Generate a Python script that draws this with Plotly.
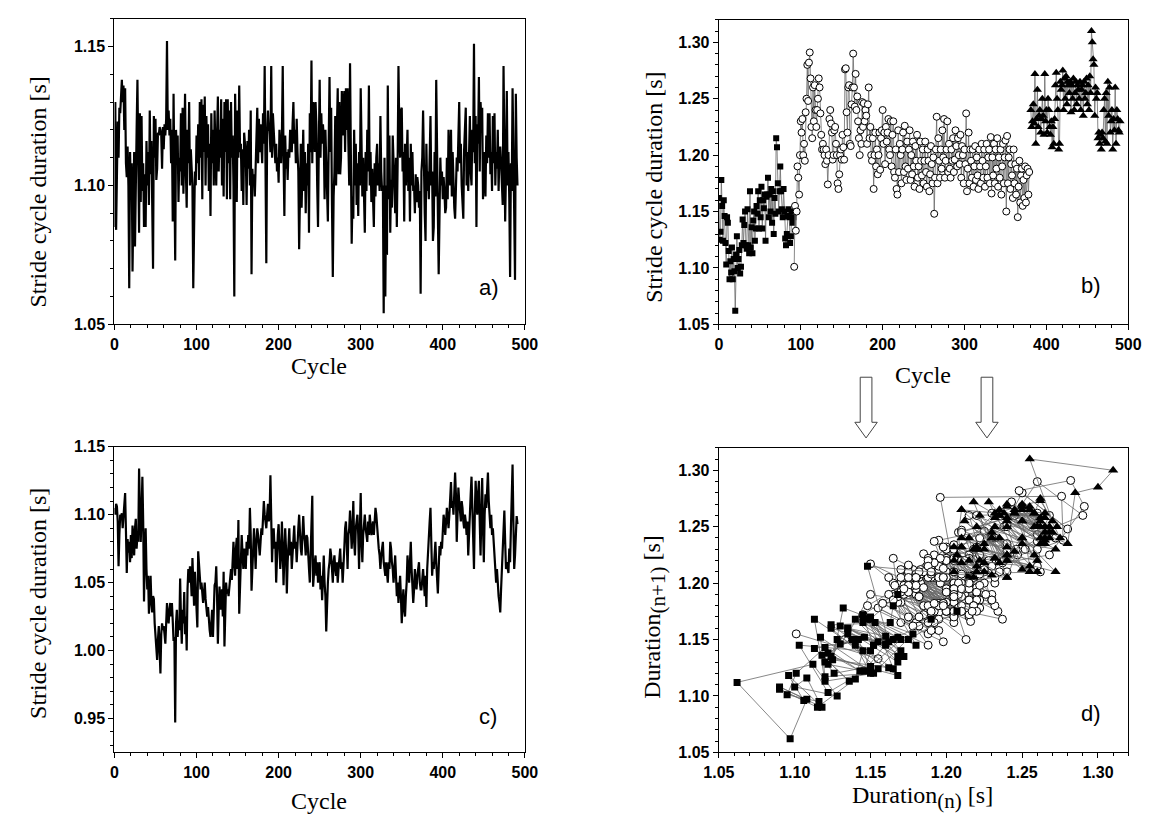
import plotly.graph_objects as go

# ---------------- data (stride durations in ms) ----------------
a_ms = [
1085,1130,1084,1118,1123,1110,1128,1126,1135,1138,1130,1136,1120,1135,1108,1103,1114,1100,1063,1112,
1098,1108,1069,1095,1112,1078,1116,1120,1138,1102,1083,1126,1094,1125,1098,1108,1085,1104,1085,1116,
1100,1112,1093,1127,1104,1116,1093,1070,1125,1110,1124,1102,1106,1119,1118,1121,1120,1118,1106,1121,
1113,1122,1118,1124,1152,1120,1127,1118,1124,1108,1120,1087,1133,1100,1073,1120,1112,1118,1094,1110,
1105,1126,1100,1128,1097,1112,1133,1105,1092,1120,1108,1130,1100,1113,1106,1100,1063,1090,1105,1100,
1118,1108,1122,1102,1130,1110,1131,1095,1129,1112,1132,1100,1125,1110,1122,1098,1115,1089,1126,1108,
1120,1100,1127,1113,1100,1118,1132,1105,1120,1110,1131,1100,1124,1096,1130,1112,1131,1095,1131,1108,
1127,1095,1130,1110,1118,1100,1060,1133,1112,1094,1127,1110,1136,1112,1115,1098,1113,1093,1119,1112,
1111,1093,1116,1106,1120,1100,1127,1068,1106,1100,1104,1096,1110,1120,1128,1108,1124,1112,1122,1115,
1108,1126,1115,1143,1110,1072,1118,1127,1120,1120,1112,1143,1110,1126,1120,1113,1108,1115,1105,1110,
1101,1120,1113,1108,1118,1143,1110,1089,1118,1106,1112,1102,1113,1110,1120,1116,1112,1122,1130,1115,
1120,1108,1124,1112,1105,1077,1098,1115,1092,1110,1120,1098,1112,1090,1108,1100,1115,1083,1126,1112,
1145,1108,1130,1128,1112,1130,1122,1100,1085,1115,1138,1110,1126,1115,1122,1117,1095,1120,1108,1100,
1087,1115,1139,1112,1128,1093,1067,1096,1105,1125,1100,1120,1135,1104,1130,1104,1110,1134,1118,1128,
1134,1112,1135,1120,1135,1115,1100,1144,1110,1079,1096,1088,1120,1100,1115,1093,1108,1089,1112,1100,
1135,1108,1096,1110,1100,1083,1112,1098,1120,1105,1136,1100,1112,1094,1106,1098,1085,1108,1096,1110,
1115,1100,1108,1098,1125,1105,1098,1100,1054,1110,1060,1100,1075,1136,1095,1118,1083,1102,1092,1118,
1105,1095,1090,1110,1085,1108,1143,1120,1110,1127,1128,1105,1112,1087,1115,1100,1108,1120,1098,1110,
1087,1115,1100,1112,1098,1100,1090,1104,1094,1103,1100,1092,1098,1061,1105,1110,1127,1100,1090,1080,
1115,1098,1105,1095,1112,1125,1100,1105,1080,1085,1112,1096,1138,1100,1090,1068,1095,1110,1100,1105,
1095,1103,1098,1090,1092,1110,1095,1120,1108,1100,1120,1096,1112,1100,1092,1088,1103,1110,1105,1115,
1130,1108,1115,1100,1095,1088,1113,1120,1128,1100,1112,1098,1110,1125,1105,1100,1120,1112,1151,1108,
1125,1085,1122,1115,1139,1105,1130,1124,1128,1095,1112,1105,1096,1118,1108,1126,1110,1126,1104,1112,
1098,1125,1108,1126,1100,1112,1106,1120,1098,1112,1114,1108,1100,1093,1143,1112,1087,1105,1134,1100,
1112,1095,1067,1108,1098,1135,1100,1090,1066,1133,1110,1100]

c_ms = [
1105,1100,1108,1106,1095,1062,1085,1100,1098,1101,1090,1100,1102,1116,1088,1057,1082,1072,1080,1065,
1085,1068,1092,1078,1070,1090,1097,1075,1085,1080,1134,1105,1080,1100,1128,1095,1036,1070,1090,1060,
1045,1055,1027,1040,1055,1035,1028,1040,1038,1020,1010,1005,993,1008,1018,1000,983,1012,1020,1015,
1018,1012,1005,1020,1035,1025,1020,1030,1035,1025,1035,1022,1007,1010,947,1020,1030,1010,1022,1015,
1053,1025,1005,1030,1020,1043,1012,1025,1000,1045,1060,1050,1062,1055,1040,1068,1045,1033,1058,1045,
1030,1017,1073,1065,1060,1045,1050,1040,1035,1042,1050,1038,1030,1025,1032,1020,1015,1010,1028,1030,
1010,1040,1048,1050,1062,1040,1005,1030,1047,1030,1040,1045,1025,1058,1003,1035,1050,1042,1045,1040,
1048,1055,1060,1052,1070,1080,1065,1055,1075,1083,1060,1096,1027,1050,1078,1085,1072,1060,1075,1065,
1060,1080,1070,1085,1075,1105,1085,1044,1065,1080,1090,1075,1060,1080,1090,1085,1075,1070,1080,1090,
1085,1095,1110,1100,1095,1090,1100,1108,1095,1100,1129,1080,1065,1085,1090,1075,1080,1050,1075,1085,
1093,1080,1060,1070,1095,1075,1048,1070,1090,1075,1042,1065,1080,1090,1070,1080,1060,1075,1085,1092,
1075,1080,1065,1085,1090,1100,1080,1075,1070,1090,1099,1085,1080,1070,1085,1083,1075,1060,1050,1075,
1095,1114,1047,1060,1065,1070,1055,1065,1050,1060,1065,1045,1055,1037,1060,1070,1050,1040,1014,1045,
1050,1060,1065,1075,1070,1060,1050,1065,1070,1060,1055,1065,1050,1060,1070,1075,1060,1065,1050,1060,
1075,1090,1095,1080,1060,1085,1090,1103,1085,1075,1090,1110,1080,1070,1090,1095,1100,1085,1060,1090,
1116,1080,1065,1085,1095,1100,1090,1085,1080,1095,1085,1100,1090,1085,1090,1095,1085,1098,1105,1100,
1090,1080,1075,1070,1060,1070,1075,1080,1065,1060,1055,1065,1055,1050,1065,1060,1080,1075,1065,1060,
1050,1065,1070,1055,1040,1050,1035,1045,1055,1040,1020,1035,1045,1030,1025,1040,1050,1070,1060,1050,
1065,1080,1060,1050,1035,1045,1060,1050,1045,1055,1060,1065,1050,1045,1045,1055,1060,1050,1040,1055,
1032,1060,1075,1090,1095,1105,1080,1055,1065,1060,1070,1080,1065,1055,1042,1060,1077,1070,1080,1075,
1090,1100,1095,1085,1095,1105,1098,1090,1100,1115,1124,1105,1110,1100,1120,1131,1115,1080,1100,1120,
1110,1100,1095,1110,1105,1095,1090,1100,1095,1085,1095,1070,1090,1105,1115,1128,1100,1090,1060,1100,
1125,1110,1100,1115,1125,1095,1070,1100,1127,1090,1065,1100,1115,1105,1120,1131,1110,1095,1090,1100,
1085,1090,1075,1070,1060,1050,1060,1045,1040,1035,1028,1045,1060,1080,1090,1103,1080,1060,1065,1058,
1057,1075,1065,1090,1110,1137,1095,1060,1070,1080,1099,1093]

# panel b: three walking phases (squares, circles, triangles)
b_sq_ms = [
1162,1125,1132,1178,1155,1124,1160,1146,1122,1103,1145,1140,1115,1090,1106,1096,1118,1090,1108,1097,
1062,1112,1128,1100,1108,1116,1095,1101,1120,1143,1122,1138,1150,1120,1117,1152,1120,1113,1168,1118,
1136,1113,1142,1150,1124,1135,1155,1148,1168,1135,1160,1145,1172,1135,1160,1153,1165,1124,1163,1165,
1180,1145,1165,1150,1170,1140,1168,1130,1162,1148,1215,1207,1175,1150,1168,1190,1168,1152,1145,1170,
1150,1126,1120,1130,1146,1152,1145,1122,1128,1150,1140,1145]
b_ci_ms = [
1101,1155,1133,1150,1190,1180,1165,1200,1230,1220,1232,1200,1210,1195,1238,1250,1280,1248,1282,1291,
1268,1225,1215,1260,1230,1262,1240,1225,1240,1250,1268,1260,1237,1218,1205,1210,1205,1200,1192,1205,
1195,1174,1200,1232,1240,1228,1220,1196,1200,1222,1225,1210,1200,1175,1170,1183,1200,1205,1196,1218,
1207,1196,1276,1277,1238,1220,1260,1262,1210,1208,1245,1260,1290,1260,1243,1272,1240,1252,1230,1215,
1200,1222,1210,1247,1225,1246,1230,1240,1235,1210,1245,1260,1215,1225,1200,1195,1215,1170,1200,1220,
1190,1205,1183,1200,1220,1187,1215,1222,1240,1210,1220,1192,1225,1212,1220,1232,1205,1200,1230,1190,
1218,1230,1185,1180,1205,1170,1165,1222,1185,1210,1200,1175,1205,1220,1185,1226,1190,1178,1212,1188,
1205,1222,1178,1200,1183,1212,1190,1172,1208,1195,1218,1180,1190,1170,1212,1195,1182,1205,1175,1195,
1212,1185,1172,1205,1195,1168,1183,1208,1192,1175,1198,1148,1180,1205,1234,1175,1215,1195,1180,1205,
1188,1222,1198,1232,1180,1195,1205,1230,1185,1210,1188,1180,1205,1195,1215,1185,1196,1222,1208,1190,
1215,1200,1192,1218,1180,1208,1200,1175,1205,1192,1237,1168,1188,1220,1175,1205,1195,1180,1205,1172,
1190,1208,1178,1198,1182,1170,1205,1190,1175,1210,1195,1180,1205,1172,1190,1210,1180,1198,1205,1175,
1216,1166,1198,1182,1210,1175,1205,1188,1215,1172,1198,1180,1205,1165,1190,1210,1175,1198,1213,1150,
1217,1175,1198,1205,1170,1192,1182,1162,1205,1175,1192,1165,1188,1145,1172,1195,1158,1182,1188,1155,
1178,1162,1190,1158,1182,1188,1165,1185]
b_tr_ms = [
1240,1225,1230,1245,1228,1272,1210,1232,1258,1225,1235,1240,1220,1232,1250,1235,1218,1272,1230,1240,
1220,1250,1240,1225,1218,1230,1207,1225,1210,1232,1262,1273,1250,1240,1205,1210,1265,1258,1262,1275,
1240,1268,1250,1270,1245,1265,1262,1255,1265,1238,1262,1250,1268,1240,1255,1265,1245,1262,1258,1250,
1265,1240,1258,1262,1235,1265,1250,1255,1268,1245,1262,1240,1270,1255,1310,1300,1285,1280,1235,1260,
1250,1255,1215,1220,1210,1218,1205,1220,1215,1240,1250,1212,1255,1210,1265,1235,1260,1220,1230,1240,
1205,1232,1222,1260,1210,1240,1232,1222,1220,1230]
b_sq_start = 0
b_ci_start = 92
b_tr_start = 381

cycle_ticks = [0, 100, 200, 300, 400, 500]
a_yticks = [1.05, 1.10, 1.15]
b_yticks = [1.05, 1.10, 1.15, 1.20, 1.25, 1.30]
c_yticks = [0.95, 1.00, 1.05, 1.10, 1.15]
d_ticks = [1.05, 1.10, 1.15, 1.20, 1.25, 1.30]

# ---------------- helpers ----------------
W, H = 1153, 825
def PX(x):
    return x / W
def PY(y):
    return 1 - y / H

to_s = lambda arr: [v / 1000 for v in arr]
a_y = to_s(a_ms); a_x = list(range(len(a_y)))
c_y = to_s(c_ms); c_x = list(range(len(c_y)))
sq = to_s(b_sq_ms); ci = to_s(b_ci_ms); tr = to_s(b_tr_ms)
sq_x = [b_sq_start + i for i in range(len(sq))]
ci_x = [b_ci_start + i for i in range(len(ci))]
tr_x = [b_tr_start + i for i in range(len(tr))]

LINE_GREY = "#6a6a6a"
sq_marker_b = dict(symbol="square", size=6, color="black", line=dict(width=0))
ci_marker_b = dict(symbol="circle", size=7, color="white", line=dict(width=1, color="black"))
tr_marker_b = dict(symbol="triangle-up", size=8, color="black", line=dict(width=0))
sq_marker_d = dict(symbol="square", size=7, color="black", line=dict(width=0))
ci_marker_d = dict(symbol="circle", size=8, color="white", line=dict(width=1, color="black"))
tr_marker_d = dict(symbol="triangle-up", size=9, color="black", line=dict(width=0))

fig = go.Figure()
# a)
fig.add_trace(go.Scatter(x=a_x, y=a_y, mode="lines", line=dict(color="black", width=2.2),
                         xaxis="x", yaxis="y", showlegend=False))
# b)
fig.add_trace(go.Scatter(x=sq_x, y=sq, mode="lines+markers", line=dict(color=LINE_GREY, width=0.8),
                         marker=sq_marker_b, xaxis="x2", yaxis="y2", showlegend=False))
fig.add_trace(go.Scatter(x=ci_x, y=ci, mode="lines+markers", line=dict(color=LINE_GREY, width=0.8),
                         marker=ci_marker_b, xaxis="x2", yaxis="y2", showlegend=False))
fig.add_trace(go.Scatter(x=tr_x, y=tr, mode="lines+markers", line=dict(color=LINE_GREY, width=0.8),
                         marker=tr_marker_b, xaxis="x2", yaxis="y2", showlegend=False))
# c)
fig.add_trace(go.Scatter(x=c_x, y=c_y, mode="lines", line=dict(color="black", width=2.2),
                         xaxis="x3", yaxis="y3", showlegend=False))
# d) return map
for ser, mk in [(ci, ci_marker_d), (sq, sq_marker_d), (tr, tr_marker_d)]:
    fig.add_trace(go.Scatter(x=ser[:-1], y=ser[1:], mode="lines+markers",
                             line=dict(color=LINE_GREY, width=0.8), marker=mk,
                             xaxis="x4", yaxis="y4", showlegend=False))

tickfont = dict(family="Liberation Sans, Arial, sans-serif", size=16, color="black", weight="bold")

def axis(domain, rng, tickvals, fmt, minor_dtick, anchor):
    return dict(domain=domain, range=rng, tickmode="array", tickvals=tickvals, tickformat=fmt,
                showline=True, mirror=True, linecolor="black", linewidth=1.3,
                ticks="outside", ticklen=5, tickwidth=1.3, tickcolor="black",
                showgrid=False, zeroline=False, tickfont=tickfont, anchor=anchor,
                minor=dict(ticks="outside", ticklen=3, tickwidth=1, tickcolor="black",
                           tick0=0, dtick=minor_dtick, showgrid=False))

fig.update_layout(
    width=W, height=H, margin=dict(l=0, r=0, t=0, b=0),
    paper_bgcolor="white", plot_bgcolor="white",
    xaxis=axis([PX(101), PX(522)], [0, 500], cycle_ticks, "d", 20, "y"),
    yaxis=axis([PY(323), PY(11)], [1.04999, 1.16], a_yticks, ".2f", 0.01, "x"),
    xaxis2=axis([PX(721), PX(1141)], [0, 500], cycle_ticks, "d", 20, "y2"),
    yaxis2=axis([PY(323), PY(12)], [1.04999, 1.32], b_yticks, ".2f", 0.01, "x2"),
    xaxis3=axis([PX(101), PX(522)], [0, 500], cycle_ticks, "d", 20, "y3"),
    yaxis3=axis([PY(760), PY(448)], [0.925, 1.15001], c_yticks, ".2f", 0.01, "x3"),
    xaxis4=axis([PX(721), PX(1141)], [1.04999, 1.32], d_ticks, ".2f", 0.01, "y4"),
    yaxis4=axis([PY(760), PY(449)], [1.04999, 1.32], d_ticks, ".2f", 0.01, "x4"),
)

serif = dict(family="Liberation Serif, Times New Roman, serif", size=24, color="black")
sans = dict(family="Liberation Sans, Arial, sans-serif", size=22, color="black")
ann = []
def text(x, y, t, font, angle=0):
    ann.append(dict(x=PX(x), y=PY(y), xref="paper", yref="paper", text=t, showarrow=False,
                    font=font, textangle=angle, xanchor="center", yanchor="middle"))
text(23, 188, "Stride cycle duration [s]", serif, -90)
text(311, 366, "Cycle", serif)
text(655, 183, "Stride cycle duration [s]", serif, -90)
text(930, 375, "Cycle", serif)
text(23, 608, "Stride cycle duration [s]", serif, -90)
text(311, 810, "Cycle", serif)
text(655, 622, "Duration<sub><span style=\"font-size:21px\">(n+1)</span></sub> [s]", serif, -90)
text(930, 806, "Duration<sub><span style=\"font-size:21px\">(n)</span></sub> [s]", serif)
text(485, 285, "a)", sans)
text(1103, 283, "b)", sans)
text(484, 723, "c)", sans)
text(1103, 720, "d)", sans)
fig.update_layout(annotations=ann)

# hollow arrows between b) and d)
shapes = []
for cx in (872, 996):
    pts = [(cx - 6, 377), (cx + 6, 377), (cx + 6, 423), (cx + 11.5, 423), (cx, 439),
           (cx - 11.5, 423), (cx - 6, 423)]
    path = "M " + " L ".join(f"{PX(x):.5f},{PY(y):.5f}" for x, y in pts) + " Z"
    shapes.append(dict(type="path", path=path, xref="paper", yref="paper",
                       line=dict(color="#444444", width=1), fillcolor="white"))
fig.update_layout(shapes=shapes)

fig.write_html("out.html", config={"displayModeBar": False},
               post_script="document.body.style.margin='0';")
